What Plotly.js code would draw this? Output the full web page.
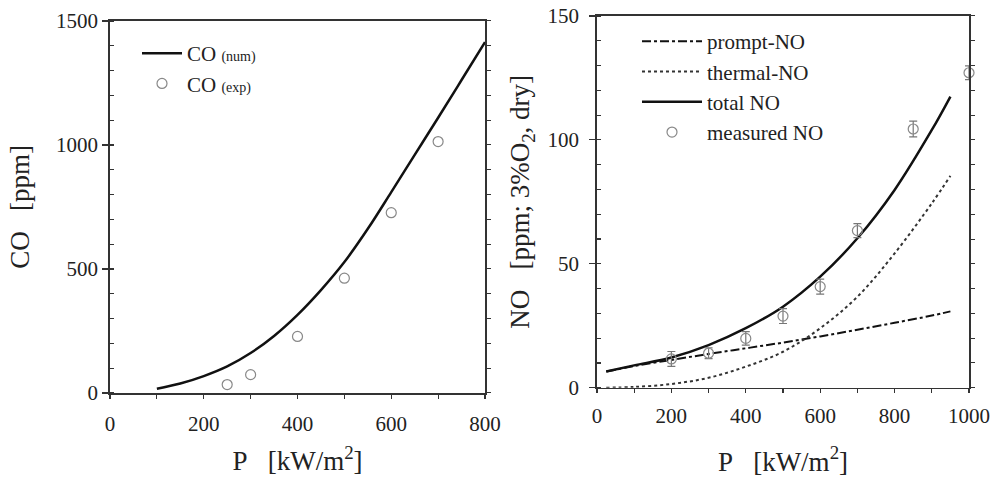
<!DOCTYPE html>
<html>
<head>
<meta charset="utf-8">
<script src="https://cdn.plot.ly/plotly-3.0.1.min.js"></script>
<style>html,body{margin:0;padding:0;background:#fff;}#chart{width:994px;height:483px;}</style>
</head>
<body>
<div id="chart"></div>
<script>
// ---- Left panel: CO ----
const coNumP = [100,150,200,250,300,350,400,450,500,550,600,650,700,750,800];
const coNumVal = [17,38,68,107,161,230,315,415,528,662,810,960,1110,1262,1415];
const coExpP = [250,300,400,500,600,700];
const coExpVal = [34,74,228,463,727,1014];

// ---- Right panel: NO ----
const noP = [25,100,200,300,400,500,600,700,800,900,950];
const promptNO = [6.5,8.7,11.2,13.6,15.9,18.2,20.7,23.4,26.2,29.1,30.8];
const thermalNO = [0,0.3,1.5,4,8.5,14.5,24,36.7,54.2,74.4,85.5];
const totalNO = [6.5,9,12.2,17.2,24,32.7,44.8,60.3,79.8,104,117.5];
const measP = [200,300,400,500,600,700,850,1000];
const measNO = [11.6,13.9,19.9,28.9,40.8,63.4,104.4,127.1];
const measErr = [3,2.2,2.7,3,3,2.8,3.2,2.8];

const serif = '"Liberation Serif", "Times New Roman", serif';
const axisCol = '#333';
const nb = '\u00a0\u00a0\u00a0';

const traces = [
  {x: coNumP, y: coNumVal, type:'scatter', mode:'lines', name:'CO <span style="font-size:14px">(num)</span>',
   line:{color:'#111', width:2.5, shape:'spline', smoothing:1}, xaxis:'x', yaxis:'y', legend:'legend'},
  {x: coExpP, y: coExpVal, type:'scatter', mode:'markers', name:'CO <span style="font-size:14px">(exp)</span>',
   marker:{symbol:'circle-open', size:10, color:'#888', line:{width:1.2}}, xaxis:'x', yaxis:'y', legend:'legend', cliponaxis:false},
  {x: [], y: [], type:'scatter', mode:'lines', xaxis:'x', yaxis:'y3', showlegend:false, hoverinfo:'skip'},
  {x: noP, y: promptNO, type:'scatter', mode:'lines', name:'prompt-NO',
   line:{color:'#111', width:2, dash:'dashdot', shape:'spline', smoothing:1}, xaxis:'x2', yaxis:'y2', legend:'legend2'},
  {x: noP, y: thermalNO, type:'scatter', mode:'lines', name:'thermal-NO',
   line:{color:'#333', width:2, dash:'dot', shape:'spline', smoothing:1}, xaxis:'x2', yaxis:'y2', legend:'legend2'},
  {x: noP, y: totalNO, type:'scatter', mode:'lines', name:'total NO',
   line:{color:'#111', width:2.5, shape:'spline', smoothing:1}, xaxis:'x2', yaxis:'y2', legend:'legend2'},
  {x: measP, y: measNO, type:'scatter', mode:'markers', name:'measured NO',
   marker:{symbol:'circle-open', size:10, color:'#888', line:{width:1.2}},
   error_y:{type:'data', array: measErr, visible:true, color:'#777', thickness:1.2, width:4},
   xaxis:'x2', yaxis:'y2', legend:'legend2', cliponaxis:false},
  {x: [], y: [], type:'scatter', mode:'lines', xaxis:'x2', yaxis:'y4', showlegend:false, hoverinfo:'skip'}
];

const tickFont = {family: serif, size: 21, color:'#222'};
const titleFont = {family: serif, size: 27, color:'#222'};

const layout = {
  width: 994, height: 483,
  margin: {l:100, r:20, t:10, b:85},
  paper_bgcolor:'#fff', plot_bgcolor:'#fff',
  font: {family: serif},
  showlegend: true,
  xaxis: {domain:[0.01144,0.4405], range:[0,800], anchor:'y', dtick:200, ticks:'outside', ticklen:4, tickwidth:1.2, tickcolor:axisCol,
    minor:{dtick:100, ticks:'outside', ticklen:4, tickcolor:axisCol}, ticklabelstandoff:7,
    showline:true, linecolor:axisCol, linewidth:1.8, mirror:true, showgrid:false, zeroline:false,
    tickfont: tickFont, title:{text:'P' + nb + '[kW/m<sup>2</sup>]', font: titleFont, standoff: 16}, automargin:false},
  yaxis: {domain:[0.01289,0.97165], range:[0,1500], anchor:'x', dtick:500, ticks:'outside', ticklen:6, tickwidth:1.2, tickcolor:axisCol,
    minor:{dtick:100, ticks:'inside', ticklen:4, tickcolor:axisCol},
    showline:true, linecolor:axisCol, linewidth:1.8, showgrid:false, zeroline:false,
    tickfont: tickFont, title:{text:'CO' + nb + '[ppm]', font: titleFont, standoff: 18}, automargin:false},
  yaxis3: {overlaying:'y', side:'right', anchor:'x', range:[0,1500], dtick:100, ticks:'outside', ticklen:4, tickcolor:axisCol,
    showticklabels:false, showline:true, linecolor:axisCol, linewidth:1.8, showgrid:false, zeroline:false},
  xaxis2: {domain:[0.5686,0.9943], range:[0,1000], anchor:'y2', dtick:200, ticks:'outside', ticklen:4, tickwidth:1.2, tickcolor:axisCol,
    minor:{dtick:100, ticks:'outside', ticklen:4, tickcolor:axisCol}, ticklabelstandoff:4,
    showline:true, linecolor:axisCol, linewidth:1.8, mirror:true, showgrid:false, zeroline:false,
    tickfont: tickFont, title:{text:'P' + nb + '[kW/m<sup>2</sup>]', font: titleFont, standoff: 25}, automargin:false},
  yaxis2: {domain:[0.02655,0.98454], range:[0,150], anchor:'x2', dtick:50, ticks:'outside', ticklen:6, tickwidth:1.2, tickcolor:axisCol,
    minor:{dtick:10, ticks:'inside', ticklen:4, tickcolor:axisCol}, ticklabelstandoff:6,
    showline:true, linecolor:axisCol, linewidth:1.8, showgrid:false, zeroline:false,
    tickfont: tickFont, title:{text:'NO' + nb + '[ppm; 3%O<sub>2</sub>, dry]', font: titleFont, standoff: 10}, automargin:false},
  yaxis4: {overlaying:'y2', side:'right', anchor:'x2', range:[0,150], dtick:10, ticks:'outside', ticklen:4, tickcolor:axisCol,
    showticklabels:false, showline:true, linecolor:axisCol, linewidth:1.8, showgrid:false, zeroline:false},
  legend: {x:(137-100)/874, xanchor:'left', y:1-(33-10)/388, yanchor:'top', bgcolor:'rgba(0,0,0,0)', borderwidth:0,
    font:{family: serif, size: 21, color:'#222'}, itemwidth:40, tracegroupgap:0},
  legend2: {x:(637-100)/874, xanchor:'left', y:1-(21-10)/388, yanchor:'top', bgcolor:'rgba(0,0,0,0)', borderwidth:0,
    font:{family: serif, size: 21, color:'#222'}, itemwidth:60, tracegroupgap:0}
};

Plotly.newPlot('chart', traces, layout, {displayModeBar:false, staticPlot:true});
</script>
</body>
</html>
